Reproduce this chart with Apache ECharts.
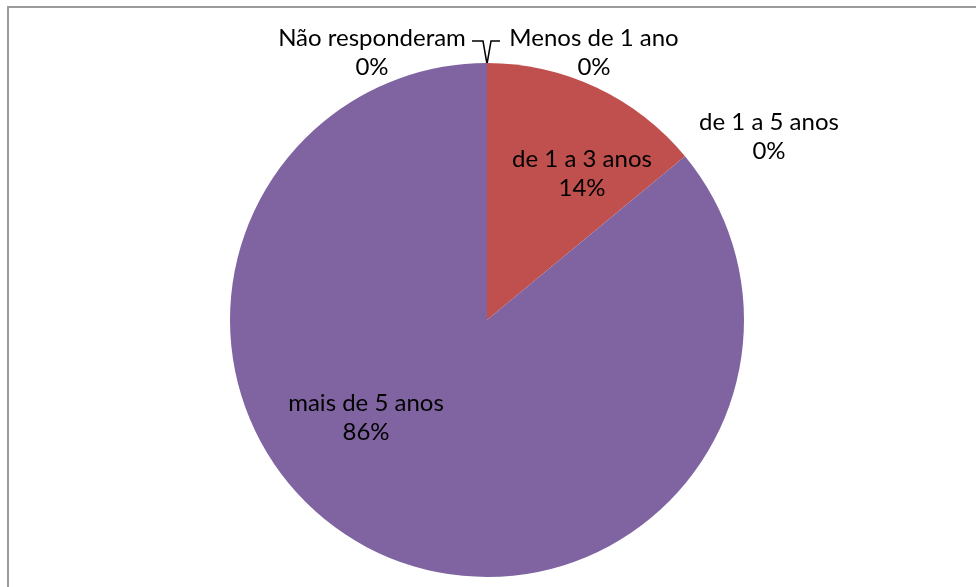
<!DOCTYPE html>
<html>
<head>
<meta charset="utf-8">
<script src="https://cdn.jsdelivr.net/npm/echarts@6/dist/echarts.min.js"></script>
<style>
    html, body { margin: 0; padding: 0; background: #fff; }
    #frame {
        position: absolute; left: 7px; top: 6px; width: 1000px; height: 600px;
        border-left: 2px solid #9a9a9a; border-top: 2px solid #9a9a9a;
    }
    #chart { position: absolute; left: 0; top: 0; width: 976px; height: 587px; }
</style>
</head>
<body>
<div id="frame"></div>
<div id="chart"></div>
<script>
    // dados do gráfico (tempo de experiência)
    const categories = ['Menos de 1 ano', 'de 1 a 3 anos', 'de 1 a 5 anos', 'mais de 5 anos', 'Não responderam'];
    const values = [0, 14, 0, 86, 0];
    const colors = ['#4F81BD', '#C0504D', '#9BBB59', '#8064A2', '#4BACC6'];

    // onde o Excel colocou os rótulos
    const labelPos = {
        'Menos de 1 ano': { x: 594, y: 53, line: [[500, 41], [491, 41], [487, 64]] },
        'de 1 a 3 anos': { x: 582, y: 174 },
        'de 1 a 5 anos': { x: 769, y: 137 },
        'mais de 5 anos': { x: 366, y: 418 },
        'Não responderam': { x: 372, y: 53, line: [[472, 41], [483, 41], [487, 64]] }
    };

    let chartData = categories.map(function (name, i) {
        return {
            name: name,
            value: values[i],
            itemStyle: { color: colors[i] },
            labelLine: { show: !!labelPos[name].line }
        };
    });

    let myChart = echarts.init(document.getElementById('chart'));
    myChart.setOption({
        animation: false,
        series: [
            {
                type: 'pie',
                center: [487, 320],
                radius: 257,
                startAngle: 90,
                clockwise: true,
                avoidLabelOverlap: false,
                data: chartData,
                label: {
                    show: true,
                    position: 'outside',
                    formatter: '{b}\n{d}%',
                    color: '#000',
                    fontFamily: 'Lato, "Open Sans", sans-serif',
                    fontSize: 24,
                    lineHeight: 29,
                    align: 'center'
                },
                labelLine: {
                    show: true,
                    lineStyle: { color: '#000', width: 1.5 }
                },
                labelLayout: function (params) {
                    let p = labelPos[categories[params.dataIndex]];
                    let res = { x: p.x, y: p.y, align: 'center', verticalAlign: 'middle' };
                    if (p.line) {
                        res.labelLinePoints = p.line;
                    }
                    return res;
                },
                itemStyle: { borderWidth: 0 },
                emphasis: { disabled: true }
            }
        ]
    });
</script>
</body>
</html>
